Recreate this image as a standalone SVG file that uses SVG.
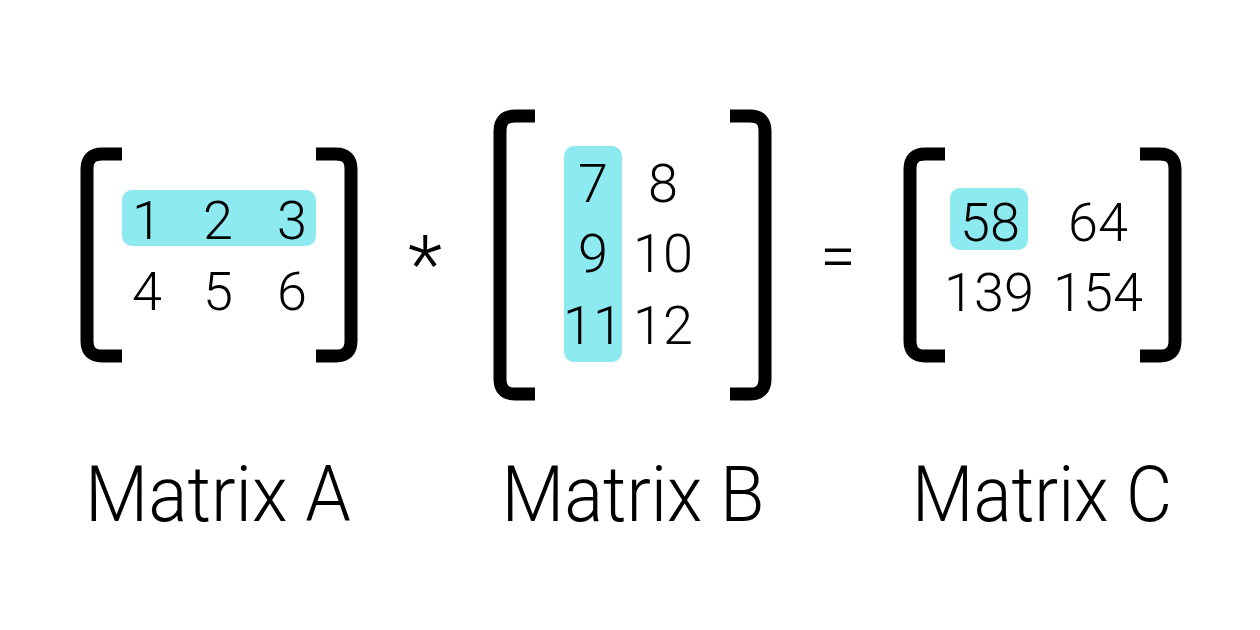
<svg xmlns="http://www.w3.org/2000/svg" width="1260" height="630" viewBox="0 0 1260 630">
<style>
.br{fill:none;stroke:#000;stroke-width:13}
.hl{fill:#8deaf0}
.n{font-family:Roboto,"Liberation Sans",sans-serif;font-weight:300;font-size:54px;text-anchor:middle;fill:#000}
.lb{font-family:Roboto,"Liberation Sans",sans-serif;font-weight:300;font-size:78px;text-anchor:middle;fill:#000}
</style>
<rect width="1260" height="630" fill="#fff"/>
<g id="matrixA">
<path class="br" d="M122,154 H102 Q87,154 87,169 V341 Q87,356 102,356 H122"/>
<path class="br" d="M316,154 H336 Q351,154 351,169 V341 Q351,356 336,356 H316"/>
<rect class="hl" x="122" y="190" width="194" height="56" rx="10"/>
<text class="n" x="147" y="239">1</text><text class="n" x="218" y="239">2</text><text class="n" x="292" y="239">3</text>
<text class="n" x="147" y="310">4</text><text class="n" x="218" y="310">5</text><text class="n" x="292" y="310">6</text>
<text class="lb" x="218" y="521" textLength="266" lengthAdjust="spacingAndGlyphs">Matrix A</text>
</g>
<g id="times"><text class="n" x="425" y="292" style="font-size:80px">*</text></g>
<g id="matrixB">
<path class="br" d="M535,116 H515 Q500,116 500,131 V379 Q500,394 515,394 H535"/>
<path class="br" d="M730,116 H750 Q765,116 765,131 V379 Q765,394 750,394 H730"/>
<rect class="hl" x="564" y="146" width="58" height="216" rx="10"/>
<text class="n" x="593" y="202">7</text><text class="n" x="663" y="202">8</text>
<text class="n" x="593" y="272">9</text><text class="n" x="663" y="272">10</text>
<text class="n" x="593" y="344">11</text><text class="n" x="663" y="344">12</text>
<text class="lb" x="633" y="521" textLength="263" lengthAdjust="spacingAndGlyphs">Matrix B</text>
</g>
<g id="equals"><text class="n" x="838" y="278" style="font-size:64px">=</text></g>
<g id="matrixC">
<path class="br" d="M945,154 H925 Q910,154 910,169 V341 Q910,356 925,356 H945"/>
<path class="br" d="M1140,154 H1160 Q1175,154 1175,169 V341 Q1175,356 1160,356 H1140"/>
<rect class="hl" x="950" y="188" width="78" height="62" rx="10"/>
<text class="n" x="990" y="241">58</text><text class="n" x="1098" y="241">64</text>
<text class="n" x="989" y="311">139</text><text class="n" x="1098" y="311">154</text>
<text class="lb" x="1042" y="521" textLength="260" lengthAdjust="spacingAndGlyphs">Matrix C</text>
</g>
</svg>
